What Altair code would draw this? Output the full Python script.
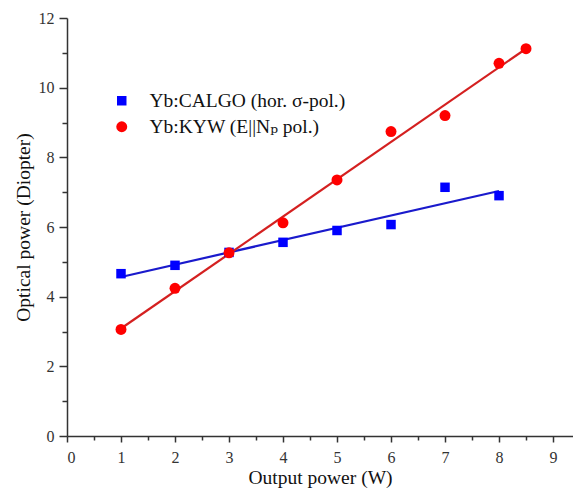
import altair as alt
import pandas as pd

calgo_x = [1, 2, 3, 4, 5, 6, 7, 8]
calgo_y = [4.66, 4.90, 5.27, 5.56, 5.90, 6.07, 7.14, 6.90]
kyw_x = [1, 2, 3, 4, 5, 6, 7, 8, 8.5]
kyw_y = [3.06, 4.24, 5.26, 6.12, 7.35, 8.74, 9.20, 10.70, 11.12]

s1 = "Yb:CALGO (hor. σ-pol.)"
s2 = "Yb:KYW (E||Nₚ pol.)"

df = pd.DataFrame(
    {"x": calgo_x + kyw_x,
     "y": calgo_y + kyw_y,
     "s": [s1] * len(calgo_x) + [s2] * len(kyw_x)}
)

FONT = "Liberation Serif, Times New Roman, DejaVu Serif, serif"
XD = [0, 9.37]
YD = [0, 12]

xs = alt.Scale(domain=XD, nice=False, zero=False)
ys = alt.Scale(domain=YD, nice=False, zero=False)

xaxis = alt.Axis(values=list(range(0, 10)), tickSize=6, labelFont=FONT, labelFontSize=16,
                 titleFont=FONT, titleFontSize=19.5, titleFontWeight="normal", grid=False,
                 domainColor="#333", tickColor="#333", labelColor="#333", titleColor="#111",
                 domainWidth=1.5, tickWidth=1.5, labelPadding=7, titlePadding=3)
yaxis = alt.Axis(values=[0, 2, 4, 6, 8, 10, 12], tickSize=8, labelFont=FONT, labelFontSize=16,
                 titleFont=FONT, titleFontSize=19.5, titleFontWeight="normal", grid=False,
                 domainColor="#333", tickColor="#333", labelColor="#333", titleColor="#111",
                 domainWidth=1.5, tickWidth=1.5, labelPadding=5, titlePadding=5)

base = alt.Chart(df)

line_c = base.transform_filter(alt.datum.s == s1).transform_regression("x", "y").mark_line(
    color="#1a1acc", strokeWidth=2.2).encode(
    x=alt.X("x:Q", scale=xs, axis=xaxis, title="Output power (W)"),
    y=alt.Y("y:Q", scale=ys, axis=yaxis, title="Optical power (Diopter)"))

line_k = base.transform_filter(alt.datum.s == s2).transform_regression("x", "y").mark_line(
    color="#d42020", strokeWidth=2.2).encode(
    x=alt.X("x:Q", scale=xs), y=alt.Y("y:Q", scale=ys))

pts = base.mark_point(filled=True, opacity=1).encode(
    x=alt.X("x:Q", scale=xs),
    y=alt.Y("y:Q", scale=ys),
    color=alt.Color("s:N", scale=alt.Scale(domain=[s1, s2], range=["#0000ff", "#ff0000"]),
                    legend=alt.Legend(title=None, orient="none", legendX=45, legendY=73,
                                      labelFont=FONT, labelFontSize=19.5, labelColor="#111",
                                      labelLimit=0, symbolSize=100, rowPadding=5,
                                      labelOffset=18, symbolStrokeWidth=0)),
    shape=alt.Shape("s:N", scale=alt.Scale(domain=[s1, s2], range=["square", "circle"])),
    size=alt.Size("s:N", scale=alt.Scale(domain=[s1, s2], range=[90, 120]), legend=None),
)

main = alt.layer(line_c, line_k, pts)

minor = base.mark_point(opacity=0).encode(
    x=alt.X("x:Q", scale=alt.Scale(domain=XD, nice=False, zero=False),
            axis=alt.Axis(orient="bottom", values=[i + 0.5 for i in range(9)], labels=False,
                          domain=False, tickSize=4, tickColor="#333", tickWidth=1.5,
                          grid=False, title=None)),
    y=alt.Y("y:Q", scale=alt.Scale(domain=YD, nice=False, zero=False),
            axis=alt.Axis(orient="left", values=[1, 3, 5, 7, 9, 11], labels=False,
                          domain=False, tickSize=5, tickColor="#333", tickWidth=1.5,
                          grid=False, title=None)),
)

chart = alt.layer(main, minor).resolve_scale(x="independent", y="independent").properties(
    width=506, height=418,
    autosize=alt.AutoSizeParams(type="none"),
    padding={"left": 67, "top": 18, "right": 0, "bottom": 53},
    background="white",
).configure_view(stroke=None)

chart.save("out.html", embed_options={"renderer": "svg", "actions": False})
